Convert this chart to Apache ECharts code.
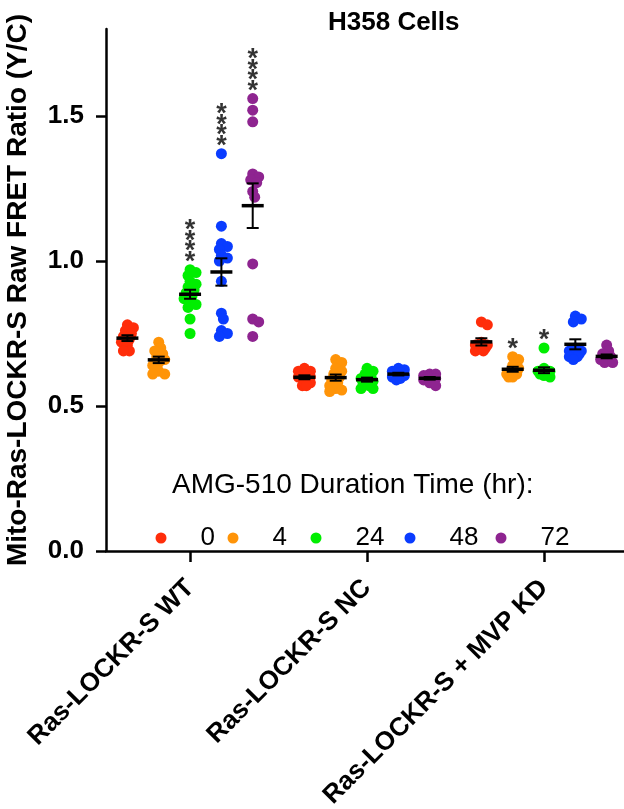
<!DOCTYPE html>
<html lang="en">
<head>
<meta charset="utf-8">
<title>H358 Cells</title>
<script src="https://cdn.jsdelivr.net/npm/echarts@6/dist/echarts.min.js"></script>
<style>
    html, body, #main {
        width: 100%;
        height: 100%;
        margin: 0;
        padding: 0;
        overflow: hidden;
        background: #ffffff;
    }
</style>
</head>
<body>
<div id="main"></div>
<script>
    var groups = ['Ras-LOCKR-S WT', 'Ras-LOCKR-S NC', 'Ras-LOCKR-S + MVP KD'];
    var times = ['0', '4', '24', '48', '72'];
    var colors = ['#ff2d0a', '#ff9408', '#00ee00', '#0a3cff', '#8e2490'];
    var yTicks = [0, 0.5, 1.0, 1.5];

    // one list per time point: 0, 4, 24, 48, 72 hr
    var wtValues = [
        [0.78, 0.77, 0.76, 0.75, 0.74, 0.73, 0.72, 0.71, 0.69, 0.69],
        [0.72, 0.70, 0.69, 0.68, 0.67, 0.66, 0.65, 0.64, 0.62, 0.61, 0.61],
        [0.97, 0.96, 0.95, 0.93, 0.92, 0.91, 0.90, 0.89, 0.88, 0.87, 0.86, 0.85, 0.84, 0.80, 0.75],
        [1.37, 1.12, 1.06, 1.05, 1.04, 1.02, 1.01, 1.00, 0.93, 0.82, 0.80, 0.76, 0.75, 0.74],
        [1.56, 1.52, 1.48, 1.30, 1.29, 1.28, 1.27, 1.24, 1.22, 0.99, 0.80, 0.79, 0.74]
    ];
    var ncValues = [
        [0.63, 0.62, 0.62, 0.61, 0.60, 0.60, 0.59, 0.58, 0.57, 0.57],
        [0.66, 0.65, 0.63, 0.62, 0.61, 0.60, 0.59, 0.58, 0.57, 0.56, 0.555, 0.55],
        [0.63, 0.62, 0.61, 0.60, 0.595, 0.59, 0.585, 0.58, 0.57, 0.56, 0.56],
        [0.63, 0.625, 0.62, 0.615, 0.61, 0.605, 0.60, 0.595, 0.59],
        [0.61, 0.61, 0.605, 0.60, 0.60, 0.595, 0.59, 0.58, 0.57]
    ];
    var kdValues = [
        [0.79, 0.78, 0.72, 0.71, 0.71, 0.70, 0.70, 0.69, 0.69],
        [0.67, 0.66, 0.64, 0.63, 0.62, 0.61, 0.61, 0.60, 0.60],
        [0.70, 0.63, 0.62, 0.62, 0.615, 0.61, 0.61, 0.605, 0.60],
        [0.81, 0.80, 0.79, 0.70, 0.69, 0.69, 0.68, 0.68, 0.67, 0.67, 0.66],
        [0.71, 0.69, 0.68, 0.67, 0.67, 0.66, 0.66, 0.65, 0.65]
    ];
    var allValues = [wtValues, ncValues, kdValues];

    // [group, time index, stars]
    var sigMarks = [[0, 2, '****'], [0, 3, '****'], [0, 4, '****'], [2, 1, '*'], [2, 2, '*']];

    var W = 624, H = 809;
    var gridLeft = 106, gridTop = 29, gridBottom = 258;
    var xMin = -0.475, xMax = 2.452, yMax = 1.8;
    var subStep = 0.177;
    var pxPerX = (W - gridLeft) / (xMax - xMin);
    var pxPerY = (H - gridTop - gridBottom) / yMax;

    // tight bee swarm: small horizontal pixel offsets, dots may overlap
    function swarm(vals, minD, maxOff) {
        var placed = [];
        return vals.map(function (v) {
            var y = v * pxPerY, best = 0, bestD = -1;
            for (var i = 0; i <= maxOff; i++) {
                var off = (i % 2 ? 1 : -1) * Math.ceil(i / 2) * 2;
                if (Math.abs(off) > maxOff) break;
                var d = placed.reduce(function (m, p) {
                    return Math.min(m, Math.sqrt((p[0] - off) * (p[0] - off) + (p[1] - y) * (p[1] - y)));
                }, 1e9);
                if (d >= minD) { best = off; bestD = d; break; }
                if (d > bestD) { best = off; bestD = d; }
            }
            placed.push([best, y]);
            return best;
        });
    }

    function mean(a) {
        return a.reduce(function (s, v) { return s + v; }, 0) / a.length;
    }
    function sem(a) {
        var m = mean(a);
        var ss = a.reduce(function (s, v) { return s + (v - m) * (v - m); }, 0);
        return Math.sqrt(ss / (a.length - 1)) / Math.sqrt(a.length);
    }
    function xPos(g, k) {
        return g + (k - 2) * subStep;
    }

    var series = [];
    times.forEach(function (t, k) {
        var data = [];
        allValues.forEach(function (grp, g) {
            var vals = grp[k];
            var offs = swarm(vals, 6, 6);
            vals.forEach(function (v, i) {
                data.push([xPos(g, k) + offs[i] / pxPerX, v]);
            });
        });
        series.push({
            name: t,
            type: 'scatter',
            symbol: 'circle',
            symbolSize: 11,
            itemStyle: {color: colors[k], opacity: 1},
            data: data,
            z: 2
        });
    });

    var stats = [];
    allValues.forEach(function (grp, g) {
        grp.forEach(function (vals, k) {
            stats.push([xPos(g, k), mean(vals), sem(vals)]);
        });
    });

    series.push({
        type: 'custom',
        z: 5,
        clip: false,
        data: stats,
        encode: {x: 0, y: 1},
        renderItem: function (params, api) {
            var x = api.value(0), m = api.value(1), s = api.value(2);
            var c = api.coord([x, m]);
            var hi = api.coord([x, m + s]);
            var lo = api.coord([x, m - s]);
            var thin = {stroke: '#000', lineWidth: 2};
            return {
                type: 'group',
                children: [
                    {type: 'line', shape: {x1: c[0], y1: hi[1], x2: c[0], y2: lo[1]}, style: thin},
                    {type: 'line', shape: {x1: c[0] - 6, y1: hi[1], x2: c[0] + 6, y2: hi[1]}, style: thin},
                    {type: 'line', shape: {x1: c[0] - 6, y1: lo[1], x2: c[0] + 6, y2: lo[1]}, style: thin},
                    {type: 'line', shape: {x1: c[0] - 11, y1: c[1], x2: c[0] + 11, y2: c[1]},
                        style: {stroke: '#000', lineWidth: 3.5}}
                ]
            };
        }
    });

    series.push({
        type: 'scatter',
        symbolSize: 0,
        z: 6,
        silent: true,
        data: sigMarks.map(function (s) {
            var vals = allValues[s[0]][s[1]];
            return {name: s[2].split('').join('\n'), value: [xPos(s[0], s[1]), Math.max.apply(null, vals)]};
        }),
        label: {
            show: true,
            position: 'top',
            distance: 2,
            formatter: '{b}',
            color: '#000',
            fontSize: 27,
            fontWeight: 'bold',
            lineHeight: 10.5,
            fontFamily: 'Liberation Sans'
        }
    });

    // one legend block per time point so the spacing can follow the reference
    var legendLeft = [155.5, 227.5, 310.5, 404.5, 495.5];
    var legends = times.map(function (t, i) {
        return {
            left: legendLeft[i],
            top: 525,
            padding: 0,
            itemWidth: 11,
            itemHeight: 11,
            icon: 'circle',
            textStyle: {fontSize: 26, color: '#000', fontFamily: 'Liberation Sans', padding: [0, 0, 0, 29]},
            data: [t]
        };
    });

    var chart = echarts.init(document.getElementById('main'));
    var option = {
        animation: false,
        backgroundColor: '#ffffff',
        textStyle: {fontFamily: 'Liberation Sans'},
        title: [
            {
                text: 'H358 Cells',
                left: 323,
                top: 5,
                textStyle: {fontSize: 26, fontWeight: 'bold', color: '#000', fontFamily: 'Liberation Sans'}
            },
            {
                text: 'AMG-510 Duration Time (hr):',
                left: 167,
                top: 466,
                textStyle: {fontSize: 28, fontWeight: 'normal', color: '#000', fontFamily: 'Liberation Sans'}
            }
        ],
        legend: legends,
        grid: {
            left: gridLeft, right: 0, top: gridTop, bottom: gridBottom,
            containLabel: false, outerBoundsMode: 'none'
        },
        xAxis: {
            type: 'value',
            min: xMin,
            max: xMax,
            splitLine: {show: false},
            axisLine: {onZero: false, lineStyle: {color: '#000', width: 2.5}},
            axisTick: {show: true, length: 11, customValues: [0, 1, 2], lineStyle: {color: '#000', width: 2.5}},
            axisLabel: {
                customValues: [0, 1, 2],
                rotate: 45,
                margin: 33,
                color: '#000',
                fontSize: 26,
                fontWeight: 'bold',
                fontFamily: 'Liberation Sans',
                formatter: function (v) { return groups[Math.round(v)]; }
            }
        },
        yAxis: {
            type: 'value',
            min: 0,
            max: yMax,
            name: 'Mito-Ras-LOCKR-S Raw FRET Ratio (Y/C)',
            nameLocation: 'middle',
            nameGap: 74,
            nameTextStyle: {fontSize: 28, fontWeight: 'bold', color: '#000', fontFamily: 'Liberation Sans'},
            splitLine: {show: false},
            axisLine: {show: true, onZero: false, lineStyle: {color: '#000', width: 2.5}},
            axisTick: {show: true, length: 10, customValues: yTicks, lineStyle: {color: '#000', width: 2.5}},
            axisLabel: {
                customValues: yTicks,
                margin: 22,
                color: '#000',
                fontSize: 26,
                fontWeight: 'bold',
                fontFamily: 'Liberation Sans',
                formatter: function (v) { return v.toFixed(1); }
            }
        },
        series: series
    };
    chart.setOption(option);
</script>
</body>
</html>
